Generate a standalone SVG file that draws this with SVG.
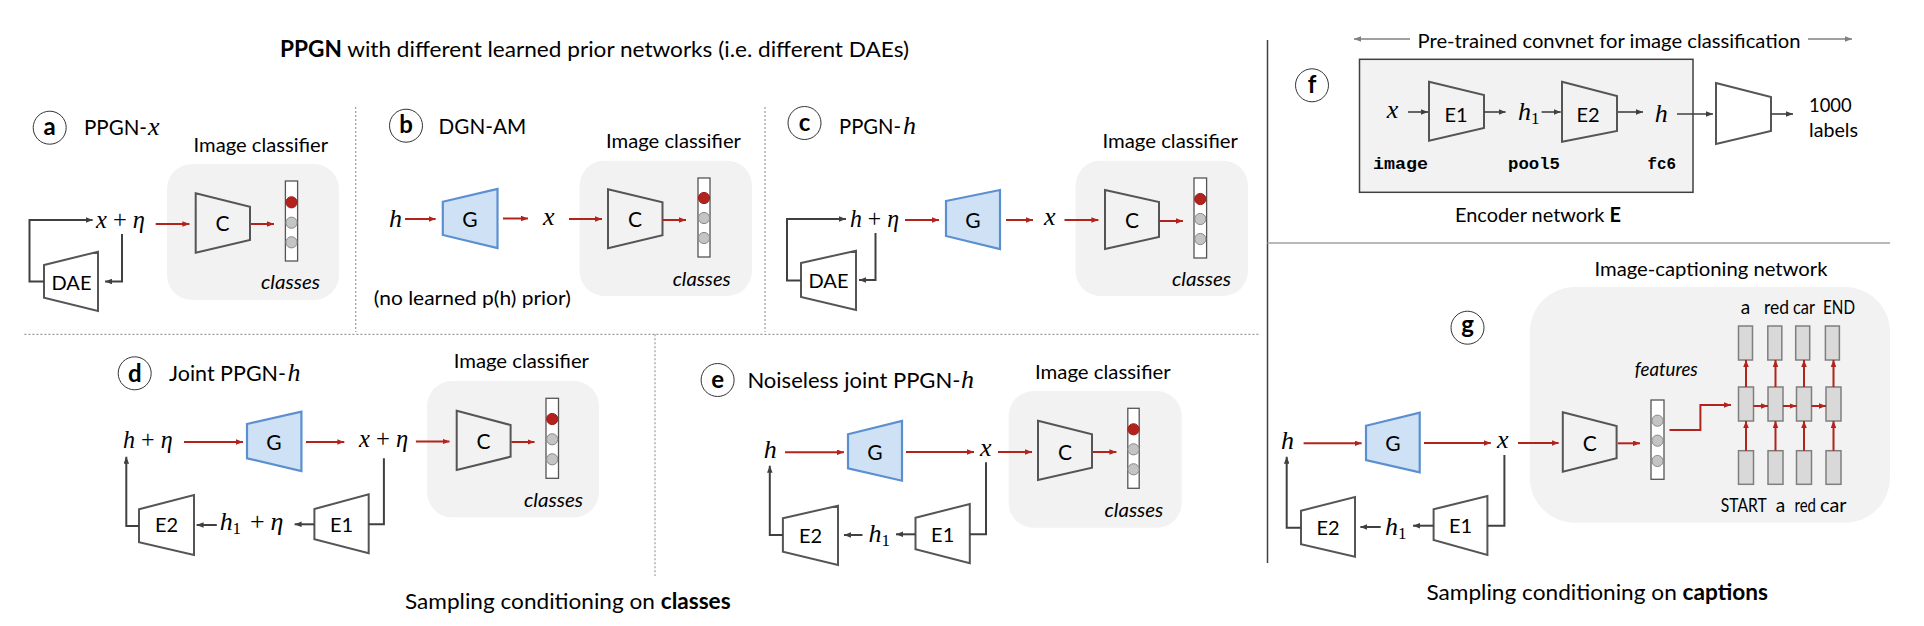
<svg xmlns="http://www.w3.org/2000/svg" width="1924" height="626" viewBox="0 0 1924 626">
<style>
 text{font-family:Lato,"Open Sans","Liberation Sans",sans-serif;fill:#000}
 .m{font-family:"Liberation Serif","DejaVu Serif",serif;font-style:italic;font-size:26px}
 .up{font-style:normal}
 .ttl{font-size:22px}
 .lab{font-size:20px}
 .cls{font-size:19px;font-style:italic}
 .cap{font-size:24px;font-weight:bold;text-anchor:middle}
 .in{font-size:21px;text-anchor:middle}
 .in2{font-size:20px;text-anchor:middle}
 .wd{font-size:19px}
 .mono{font-family:"Liberation Mono","DejaVu Sans Mono",monospace;font-weight:bold;font-size:17px}
 .box{fill:#f2f2f2;stroke:none}
 .trap{fill:none;stroke:#555;stroke-width:2}
 .gen{fill:#cfe2f5;stroke:#5b8fcf;stroke-width:2.2}
 .circ{fill:#fff;stroke:#333;stroke-width:1}
 .bar{fill:#fff;stroke:#555;stroke-width:1.3}
 .dot{fill:#c4c4c4;stroke:#888;stroke-width:1}
 .hot{fill:#b3231d;stroke:#9e1b16;stroke-width:1}
 .red{fill:none;stroke:#b3231d;stroke-width:2;marker-end:url(#ar)}
 .blk{fill:none;stroke:#404040;stroke-width:2;marker-end:url(#ak)}
 .blk0{fill:none;stroke:#404040;stroke-width:2}
 .fk{fill:none;stroke:#404040;stroke-width:1.6;marker-end:url(#ak)}
 .gry{fill:none;stroke:#808080;stroke-width:1.5;marker-end:url(#ag)}
 .dash{stroke:#9a9a9a;stroke-width:1.2;stroke-dasharray:2 2;fill:none}
 .cell{fill:#d9d9d9;stroke:#7f7f7f;stroke-width:1.5}
</style>
<defs>
 <marker id="ar" viewBox="0 0 10 8" refX="10" refY="4" markerWidth="7" markerHeight="5.6" markerUnits="userSpaceOnUse" orient="auto"><path d="M0,0 L10,4 L0,8 z" fill="#b3231d"/></marker>
 <marker id="ak" viewBox="0 0 10 8" refX="10" refY="4" markerWidth="7" markerHeight="5.6" markerUnits="userSpaceOnUse" orient="auto"><path d="M0,0 L10,4 L0,8 z" fill="#404040"/></marker>
 <marker id="ag" viewBox="0 0 10 8" refX="10" refY="4" markerWidth="7" markerHeight="5.6" markerUnits="userSpaceOnUse" orient="auto"><path d="M0,0 L10,4 L0,8 z" fill="#808080"/></marker>
</defs>
<rect width="1924" height="626" fill="#fff"/>

<g id="separators">
 <path class="dash" d="M355.7,107 V332"/>
 <path class="dash" d="M765,107 V332"/>
 <path class="dash" d="M24.4,334.3 H1258.4"/>
 <path class="dash" d="M655,334.3 V576"/>
 <path d="M1267.5,40 V563" stroke="#404040" stroke-width="1.5"/>
 <path d="M1267.6,243 H1890" stroke="#b8b8b8" stroke-width="2"/>
</g>

<g id="heading">
 <text class="ttl" x="280" y="57" textLength="629" lengthAdjust="spacingAndGlyphs"><tspan font-weight="bold">PPGN</tspan> with different learned prior networks (i.e. different DAEs)</text>
</g>
<g id="footer-classes"><text class="ttl" x="405" y="608.5" textLength="325.6" lengthAdjust="spacingAndGlyphs">Sampling conditioning on <tspan font-weight="bold">classes</tspan></text></g>
<g id="footer-captions"><text class="ttl" x="1426.4" y="600" textLength="341.6" lengthAdjust="spacingAndGlyphs">Sampling conditioning on <tspan font-weight="bold">captions</tspan></text></g>

<!-- panel a -->
<g id="a-badge"><circle class="circ" cx="49.7" cy="127.7" r="16.5"/><text class="cap" x="49.7" y="135">a</text></g>
<g id="a-title"><text class="ttl" x="84" y="135" textLength="63" lengthAdjust="spacingAndGlyphs">PPGN-</text><text class="m" x="148" y="135">x</text></g>
<g id="a-classifier"><rect class="box" x="167" y="164" width="172" height="136" rx="25"/><text class="lab" x="193.6" y="151.7" textLength="134.4" lengthAdjust="spacingAndGlyphs">Image classifier</text></g>
<g id="a-C"><polygon class="trap" points="195.7,193.3 250,206.7 250,240 195.7,252.7"/><text class="in" x="222.5" y="231">C</text></g>
<g id="a-classes"><rect class="bar" x="285.4" y="181" width="12.2" height="80"/><circle class="hot" cx="291.5" cy="202.3" r="5.6"/><circle class="dot" cx="291.5" cy="222.7" r="5.6"/><circle class="dot" cx="291.5" cy="242.3" r="5.6"/><text class="cls" x="261" y="288.7" textLength="59" lengthAdjust="spacingAndGlyphs">classes</text></g>
<g id="a-xeta"><text class="m" x="96" y="228" textLength="49" lengthAdjust="spacingAndGlyphs">x<tspan class="up"> + </tspan>η</text></g>
<g id="a-DAE"><polygon class="trap" points="44,265 98,251.7 98,311 44,297.7"/><text class="in2" x="71.5" y="289.5">DAE</text></g>

<!-- panel b -->
<g id="b-badge"><circle class="circ" cx="406" cy="125.7" r="16.5"/><text class="cap" x="406" y="133.3">b</text></g>
<g id="b-title"><text class="ttl" x="438.6" y="134.3" textLength="87.5" lengthAdjust="spacingAndGlyphs">DGN-AM</text></g>
<g id="b-classifier"><rect class="box" x="579.6" y="160.7" width="172.4" height="135.3" rx="25"/><text class="lab" x="606" y="147.7" textLength="135" lengthAdjust="spacingAndGlyphs">Image classifier</text></g>
<g id="b-h"><text class="m" x="389" y="226.7">h</text></g>
<g id="b-G"><polygon class="gen" points="442.8,201.7 497.5,189 497.5,248 442.8,235"/><text class="in" x="470" y="226.5">G</text></g>
<g id="b-x"><text class="m" x="543" y="225">x</text></g>
<g id="b-C"><polygon class="trap" points="608,189.3 662.5,202.3 662.5,235.3 608,248.3"/><text class="in" x="635" y="226.7">C</text></g>
<g id="b-classes"><rect class="bar" x="698" y="178" width="12" height="79"/><circle class="hot" cx="704" cy="198" r="5.6"/><circle class="dot" cx="704" cy="218" r="5.6"/><circle class="dot" cx="704" cy="238" r="5.6"/><text class="cls" x="672.7" y="285.7" textLength="58" lengthAdjust="spacingAndGlyphs">classes</text></g>
<g id="b-note"><text class="lab" x="373.8" y="305" textLength="197" lengthAdjust="spacingAndGlyphs">(no learned p(h) prior)</text></g>

<!-- panel c -->
<g id="c-badge"><circle class="circ" cx="804.5" cy="123" r="16.5"/><text class="cap" x="804.5" y="131">c</text></g>
<g id="c-title"><text class="ttl" x="839" y="133.5" textLength="62" lengthAdjust="spacingAndGlyphs">PPGN-</text><text class="m" x="903" y="133.5">h</text></g>
<g id="c-classifier"><rect class="box" x="1075.6" y="160.7" width="172.4" height="135.3" rx="25"/><text class="lab" x="1102.5" y="148.3" textLength="135.5" lengthAdjust="spacingAndGlyphs">Image classifier</text></g>
<g id="c-heta"><text class="m" x="850" y="226.7" textLength="49" lengthAdjust="spacingAndGlyphs">h<tspan class="up"> + </tspan>η</text></g>
<g id="c-DAE"><polygon class="trap" points="801,263 856,250.7 856,310 801,297"/><text class="in2" x="828.5" y="288">DAE</text></g>
<g id="c-G"><polygon class="gen" points="946,201 1000,190 1000,249 946,236"/><text class="in" x="973" y="227.5">G</text></g>
<g id="c-x"><text class="m" x="1044" y="225">x</text></g>
<g id="c-C"><polygon class="trap" points="1105,190 1159,202 1159,237 1105,249"/><text class="in" x="1132" y="227.5">C</text></g>
<g id="c-classes"><rect class="bar" x="1194" y="178" width="12.6" height="80"/><circle class="hot" cx="1200.3" cy="199" r="5.6"/><circle class="dot" cx="1200.3" cy="219" r="5.6"/><circle class="dot" cx="1200.3" cy="239" r="5.6"/><text class="cls" x="1172" y="285.7" textLength="59" lengthAdjust="spacingAndGlyphs">classes</text></g>

<!-- panel d -->
<g id="d-badge"><circle class="circ" cx="134.7" cy="373.3" r="16.5"/><text class="cap" x="134.7" y="381.7">d</text></g>
<g id="d-title"><text class="ttl" x="169" y="380.7" textLength="117" lengthAdjust="spacingAndGlyphs">Joint PPGN-</text><text class="m" x="287.5" y="380.7">h</text></g>
<g id="d-classifier"><rect class="box" x="427" y="381" width="172" height="136.3" rx="25"/><text class="lab" x="453.7" y="368.3" textLength="135.3" lengthAdjust="spacingAndGlyphs">Image classifier</text></g>
<g id="d-heta"><text class="m" x="123" y="448.3" textLength="49.6" lengthAdjust="spacingAndGlyphs">h<tspan class="up"> + </tspan>η</text></g>
<g id="d-G"><polygon class="gen" points="247,424 301.4,411.7 301.4,471 247,458.3"/><text class="in" x="274" y="449.5">G</text></g>
<g id="d-xeta"><text class="m" x="359" y="446.7" textLength="49.3" lengthAdjust="spacingAndGlyphs">x<tspan class="up"> + </tspan>η</text></g>
<g id="d-C"><polygon class="trap" points="456.7,410.7 510.6,425 510.6,456.7 456.7,470"/><text class="in" x="483.6" y="448.5">C</text></g>
<g id="d-classes"><rect class="bar" x="546" y="398.3" width="12.5" height="80"/><circle class="hot" cx="552.2" cy="419" r="5.6"/><circle class="dot" cx="552.2" cy="439.3" r="5.6"/><circle class="dot" cx="552.2" cy="459.3" r="5.6"/><text class="cls" x="524" y="506.7" textLength="59" lengthAdjust="spacingAndGlyphs">classes</text></g>
<g id="d-E1"><polygon class="trap" points="314.4,509 368.7,494.3 368.7,553.3 314.4,539.3"/><text class="in2" x="341.5" y="531.5">E1</text></g>
<g id="d-h1eta"><text class="m" x="219.7" y="530">h<tspan class="up" font-size="17" x="232.5" dy="4">1</tspan><tspan class="up" x="250" dy="-4">+</tspan><tspan x="270.5">η</tspan></text></g>
<g id="d-E2"><polygon class="trap" points="139,509.3 194,495 194,555 139,542.3"/><text class="in2" x="166.5" y="532">E2</text></g>

<!-- panel e -->
<g id="e-badge"><circle class="circ" cx="717.6" cy="380" r="16.5"/><text class="cap" x="717.6" y="387.5">e</text></g>
<g id="e-title"><text class="ttl" x="747.4" y="388.3" textLength="213" lengthAdjust="spacingAndGlyphs">Noiseless joint PPGN-</text><text class="m" x="961" y="388.3">h</text></g>
<g id="e-classifier"><rect class="box" x="1008.6" y="391" width="173.1" height="136.7" rx="25"/><text class="lab" x="1035" y="379" textLength="135.7" lengthAdjust="spacingAndGlyphs">Image classifier</text></g>
<g id="e-h"><text class="m" x="763.7" y="458.3">h</text></g>
<g id="e-G"><polygon class="gen" points="848,434.3 902,421 902,480.7 848,468.3"/><text class="in" x="875" y="459.5">G</text></g>
<g id="e-x"><text class="m" x="980" y="456">x</text></g>
<g id="e-C"><polygon class="trap" points="1038,420.7 1092,434.3 1092,467.7 1038,480"/><text class="in" x="1065" y="459.5">C</text></g>
<g id="e-classes"><rect class="bar" x="1127.8" y="408.3" width="11.4" height="80"/><circle class="hot" cx="1133.5" cy="429.3" r="5.6"/><circle class="dot" cx="1133.5" cy="449.3" r="5.6"/><circle class="dot" cx="1133.5" cy="469.3" r="5.6"/><text class="cls" x="1104.5" y="516.7" textLength="58.8" lengthAdjust="spacingAndGlyphs">classes</text></g>
<g id="e-E1"><polygon class="trap" points="915.5,517.7 969.8,504 969.8,563.3 915.5,549.3"/><text class="in2" x="942.7" y="542">E1</text></g>
<g id="e-h1"><text class="m" x="868.6" y="541.7">h<tspan class="up" font-size="17" dy="4">1</tspan></text></g>
<g id="e-E2"><polygon class="trap" points="782.9,518.3 838,505.7 838,565 782.9,551.7"/><text class="in2" x="810.5" y="542.7">E2</text></g>

<!-- panel f -->
<g id="f-badge"><circle class="circ" cx="1312" cy="85.3" r="16.5"/><text class="cap" x="1312" y="93.3">f</text></g>
<g id="f-title"><text class="lab" x="1417.5" y="47.7" textLength="383" lengthAdjust="spacingAndGlyphs">Pre-trained convnet for image classification</text></g>
<g id="f-encoder"><rect x="1359.5" y="59.3" width="333.5" height="133" fill="#f2f2f2" stroke="#404040" stroke-width="1.5"/><text class="lab" x="1455" y="221.7" textLength="166" lengthAdjust="spacingAndGlyphs">Encoder network <tspan font-weight="bold">E</tspan></text></g>
<g id="f-x"><text class="m" x="1386.7" y="117.7">x</text><text class="mono" x="1373" y="169.3" textLength="55" lengthAdjust="spacingAndGlyphs">image</text></g>
<g id="f-E1"><polygon class="trap" points="1429,81.7 1484,95 1484,128 1429,140.7"/><text class="in2" x="1456" y="122">E1</text></g>
<g id="f-h1"><text class="m" x="1518" y="120">h<tspan class="up" font-size="17" dy="3.5">1</tspan></text><text class="mono" x="1508" y="169.3" textLength="52" lengthAdjust="spacingAndGlyphs">pool5</text></g>
<g id="f-E2"><polygon class="trap" points="1562,81.7 1617,96 1617,131 1562,141.7"/><text class="in2" x="1588" y="122">E2</text></g>
<g id="f-h"><text class="m" x="1654.7" y="121.7">h</text><text class="mono" x="1647.5" y="168.5" textLength="28.5" lengthAdjust="spacingAndGlyphs">fc6</text></g>
<g id="f-classifier"><polygon class="trap" points="1716,83 1771,97 1771,131 1716,144"/></g>
<g id="f-labels"><text class="lab" x="1809" y="111.7" textLength="42.6" lengthAdjust="spacingAndGlyphs">1000</text><text class="lab" x="1809" y="137.3" textLength="49" lengthAdjust="spacingAndGlyphs">labels</text></g>

<!-- panel g -->
<g id="g-badge"><circle class="circ" cx="1467.5" cy="327.7" r="16.5"/><text class="cap" x="1467.5" y="333">g</text></g>
<g id="g-captioner"><rect class="box" x="1529.8" y="287" width="360.2" height="235.7" rx="45"/><text class="lab" x="1594.5" y="275.7" textLength="233" lengthAdjust="spacingAndGlyphs">Image-captioning network</text></g>
<g id="g-h"><text class="m" x="1281" y="449">h</text></g>
<g id="g-G"><polygon class="gen" points="1366,425.7 1419.7,412.7 1419.7,472.3 1366,460"/><text class="in" x="1393" y="450.5">G</text></g>
<g id="g-x"><text class="m" x="1497" y="447.7">x</text></g>
<g id="g-C"><polygon class="trap" points="1562.8,412.3 1616.6,426 1616.6,458.3 1562.8,471.7"/><text class="in" x="1589.7" y="450.5">C</text></g>
<g id="g-features"><rect class="bar" x="1651" y="400" width="13" height="79.3"/><circle class="dot" cx="1657.5" cy="420.7" r="5.6"/><circle class="dot" cx="1657.5" cy="440.7" r="5.6"/><circle class="dot" cx="1657.5" cy="461" r="5.6"/><text class="cls" x="1634.8" y="376" textLength="63" lengthAdjust="spacingAndGlyphs">features</text></g>
<g id="g-out-words"><text class="wd" y="313.5"><tspan x="1740.7">a</tspan><tspan x="1764" textLength="25" lengthAdjust="spacingAndGlyphs">red</tspan><tspan x="1793" textLength="22" lengthAdjust="spacingAndGlyphs">car</tspan><tspan x="1823" textLength="32" lengthAdjust="spacingAndGlyphs">END</tspan></text></g>
<g id="g-out-cells"><rect class="cell" x="1738.5" y="326" width="14" height="34"/><rect class="cell" x="1767.8" y="326" width="14" height="34"/><rect class="cell" x="1795.7" y="326" width="14" height="34"/><rect class="cell" x="1825.4" y="326" width="14" height="34"/></g>
<g id="g-rnn-cells"><rect class="cell" x="1738.5" y="387" width="15" height="34"/><rect class="cell" x="1768" y="387" width="15" height="34"/><rect class="cell" x="1796.5" y="387" width="15" height="34"/><rect class="cell" x="1826" y="387" width="15" height="34"/></g>
<g id="g-in-cells"><rect class="cell" x="1738.5" y="450.7" width="15" height="33.6"/><rect class="cell" x="1768" y="450.7" width="15" height="33.6"/><rect class="cell" x="1796.5" y="450.7" width="15" height="33.6"/><rect class="cell" x="1826" y="450.7" width="15" height="33.6"/></g>
<g id="g-in-words"><text class="wd" y="511.7" font-size="18"><tspan x="1720.8" textLength="46" lengthAdjust="spacingAndGlyphs">START</tspan><tspan x="1775.8">a</tspan><tspan x="1794.5" textLength="21.5" lengthAdjust="spacingAndGlyphs">red</tspan><tspan x="1820" textLength="26.5" lengthAdjust="spacingAndGlyphs">car</tspan></text></g>
<g id="g-E1"><polygon class="trap" points="1433.6,509.3 1487.4,496 1487.4,555 1433.6,540"/><text class="in2" x="1460.5" y="533.3">E1</text></g>
<g id="g-h1"><text class="m" x="1385" y="535">h<tspan class="up" font-size="17" dy="4">1</tspan></text></g>
<g id="g-E2"><polygon class="trap" points="1301,510.7 1355,497 1355,556.7 1301,544.3"/><text class="in2" x="1328" y="534.5">E2</text></g>

<g id="connectors">
 <path class="red" d="M155.7,224 H189.4"/>
 <path class="red" d="M251,224 H274"/>
 <path class="blk" d="M122,234 V281.5 H105"/>
 <path class="blk" d="M44,281.5 H29.5 V220 H92.6"/>
 <path class="red" d="M405,219 H435.6"/>
 <path class="red" d="M503,218.5 H528"/>
 <path class="red" d="M569,219 H602"/>
 <path class="red" d="M662.5,220 H686"/>
 <path class="red" d="M905,220 H939"/>
 <path class="red" d="M1006,220 H1033"/>
 <path class="red" d="M1064.5,220 H1098.4"/>
 <path class="red" d="M1159,221 H1183"/>
 <path class="blk" d="M875.5,233 V280 H859"/>
 <path class="blk" d="M801,280.5 H787 V219 H846"/>
 <path class="red" d="M184,442 H243"/>
 <path class="red" d="M306,442 H344.3"/>
 <path class="red" d="M415.9,441.5 H449.5"/>
 <path class="red" d="M511.4,442 H534.5"/>
 <path class="blk0" d="M383.9,458.3 V524.3 H368.7"/>
 <path class="blk" d="M314.4,524.3 H294.6"/>
 <path class="blk" d="M216.8,525 H196.6"/>
 <path class="blk" d="M139,526 H126.3 V456.7"/>
 <path class="red" d="M785,452.3 H844"/>
 <path class="red" d="M906,452 H974"/>
 <path class="red" d="M998,452 H1032"/>
 <path class="red" d="M1093,452 H1116.4"/>
 <path class="blk0" d="M986,462.3 V534.3 H969.8"/>
 <path class="blk" d="M915.5,534.3 H896"/>
 <path class="blk" d="M862.5,535 H844"/>
 <path class="blk" d="M782.9,535 H769.8 V465.7"/>
 <path class="gry" d="M1410,39 H1354"/>
 <path class="gry" d="M1808,39 H1852"/>
 <path class="fk" d="M1408,112 H1428"/>
 <path class="fk" d="M1484,112 H1505.6"/>
 <path class="fk" d="M1541.6,112 H1560.7"/>
 <path class="fk" d="M1618,112 H1643"/>
 <path class="fk" d="M1677,114 H1713"/>
 <path class="fk" d="M1771,114 H1793"/>
 <path class="red" d="M1303.6,443.3 H1361.6"/>
 <path class="red" d="M1424,443 H1490.8"/>
 <path class="red" d="M1518,443 H1558.6"/>
 <path class="red" d="M1617.8,443.3 H1640"/>
 <path class="red" d="M1669.5,430 H1700.4 V405 H1731"/>
 <path class="red" d="M1746,450.7 V421"/>
 <path class="red" d="M1775.5,450.7 V421"/>
 <path class="red" d="M1804,450.7 V421"/>
 <path class="red" d="M1833.5,450.7 V421"/>
 <path class="red" d="M1746,387 V360"/>
 <path class="red" d="M1775.5,387 V360"/>
 <path class="red" d="M1804,387 V360"/>
 <path class="red" d="M1833.5,387 V360"/>
 <path class="red" d="M1753.5,406 H1768"/>
 <path class="red" d="M1783,406 H1796.5"/>
 <path class="red" d="M1811.5,406 H1826"/>
 <path class="blk0" d="M1504.4,455 V525.7 H1487.4"/>
 <path class="blk" d="M1433.6,525.7 H1413"/>
 <path class="blk" d="M1380.7,527 H1360.4"/>
 <path class="blk" d="M1301,527.7 H1286.7 V456.7"/>
</g>
</svg>
